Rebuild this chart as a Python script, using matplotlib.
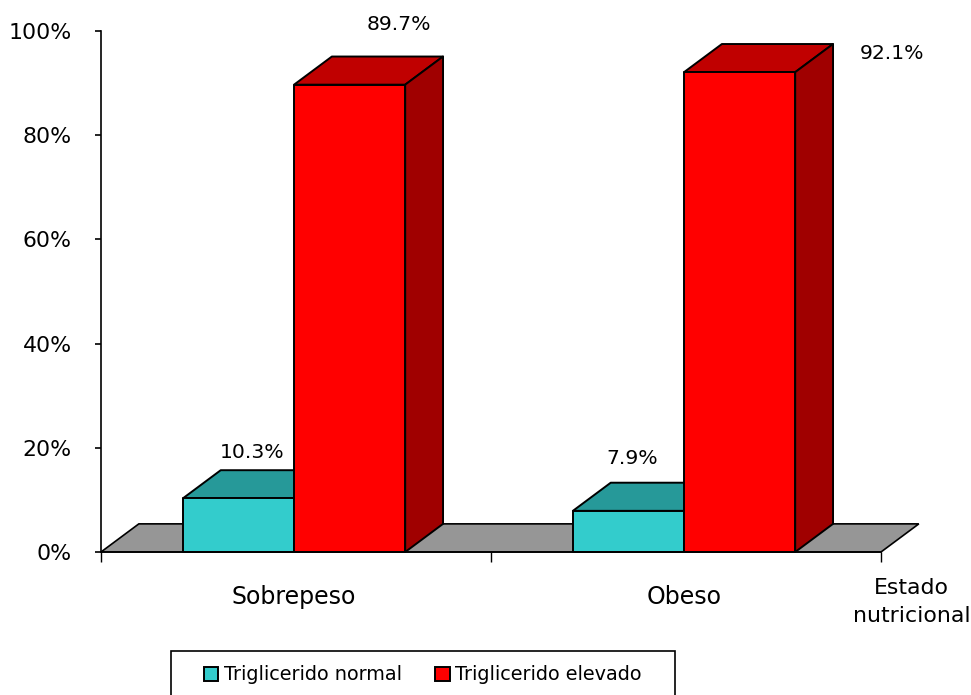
import matplotlib
matplotlib.use("Agg")
import matplotlib.pyplot as plt
from matplotlib.patches import Patch, Polygon, Rectangle

categories = ["Sobrepeso", "Obeso"]
normal = [10.3, 7.9]
elevado = [89.7, 92.1]
series_names = ["Triglicerido normal", "Triglicerido elevado"]
yticks = [0, 20, 40, 60, 80, 100]

# depth of the fake 3d boxes, in axis units
DX = 0.097
DY = 5.4
BAR_W = 0.285

TEAL = ("#33CCCC", "#269999", "#1F8080")
RED = ("#FF0000", "#C00000", "#A00000")


def box(ax, x0, x1, h, colors):
    front, top, side = colors
    kw = dict(edgecolor="black", linewidth=1.4, joinstyle="round", clip_on=False)
    ax.add_patch(Polygon([(x0, h), (x1, h), (x1 + DX, h + DY), (x0 + DX, h + DY)],
                         facecolor=top, **kw))
    ax.add_patch(Polygon([(x1, 0), (x1 + DX, DY), (x1 + DX, h + DY), (x1, h)],
                         facecolor=side, **kw))
    ax.add_patch(Polygon([(x0, 0), (x1, 0), (x1, h), (x0, h)],
                         facecolor=front, **kw))


fig = plt.figure(figsize=(9.71, 6.95), dpi=100)
ax = fig.add_axes([101 / 971, 143 / 695, 780 / 971, 521 / 695])
ax.set_xlim(0, 2)
ax.set_ylim(0, 100)

# floor of the chart
ax.add_patch(Polygon([(0, 0), (2, 0), (2 + DX, DY), (DX, DY)],
                     facecolor="#969696", edgecolor="black", linewidth=1.2,
                     clip_on=False))

for i in range(len(categories)):
    c = i + 0.495
    box(ax, c - BAR_W, c, normal[i], TEAL)
    box(ax, c, c + BAR_W, elevado[i], RED)

# value labels sit at hand-placed offsets from the bar top
ax.annotate("%.1f%%" % normal[0], (0.495 - BAR_W / 2, normal[0]), xytext=(14, 46),
            textcoords="offset pixels", ha="center", va="center", fontsize=14.7)
ax.annotate("%.1f%%" % elevado[0], (0.495 + BAR_W / 2, elevado[0]), xytext=(49, 60),
            textcoords="offset pixels", ha="center", va="center", fontsize=14.7)
ax.annotate("%.1f%%" % normal[1], (1.495 - BAR_W / 2, normal[1]), xytext=(4, 52),
            textcoords="offset pixels", ha="center", va="center", fontsize=14.7)
ax.annotate("%.1f%%" % elevado[1], (1.495 + BAR_W / 2, elevado[1]), xytext=(152, 19),
            textcoords="offset pixels", ha="center", va="center", fontsize=14.7)

for s in ("top", "right"):
    ax.spines[s].set_visible(False)
ax.spines["left"].set_linewidth(1.2)
ax.spines["bottom"].set_linewidth(1.2)

ax.set_yticks(yticks)
ax.set_yticklabels(["%d%%" % v for v in yticks], fontsize=15.8)
ax.tick_params(axis="y", length=4, width=1.2, pad=17)

ax.set_xticks([0, 1, 2])
ax.set_xticklabels([])
ax.set_xticks([0.495, 1.495], minor=True)
ax.set_xticklabels(categories, minor=True, fontsize=17)
ax.tick_params(axis="x", which="major", length=7, width=1)
ax.tick_params(axis="x", which="minor", length=0, pad=24)

ax.text(2.079, -4.95, "Estado\nnutricional", ha="center", va="top", fontsize=15.8,
        linespacing=1.5, clip_on=False)

# legend frame runs off the bottom edge, so it is drawn apart from the entries
fig.add_artist(Rectangle((171 / 971, -0.01), 504 / 971, 44 / 695 + 0.01,
                         transform=fig.transFigure, facecolor="white",
                         edgecolor="black", linewidth=1.2))
handles = [Patch(facecolor=TEAL[0], edgecolor="black", linewidth=1.4),
           Patch(facecolor=RED[0], edgecolor="black", linewidth=1.4)]
leg = fig.legend(handles, series_names, ncol=2, loc="center left",
                 bbox_to_anchor=(204 / 971, 20 / 695), bbox_transform=fig.transFigure,
                 fontsize=13.9, frameon=False,
                 handlelength=0.75, handleheight=0.75, handletextpad=0.3,
                 columnspacing=1.7, borderpad=0, borderaxespad=0)

fig.savefig("out.png", dpi=100)
